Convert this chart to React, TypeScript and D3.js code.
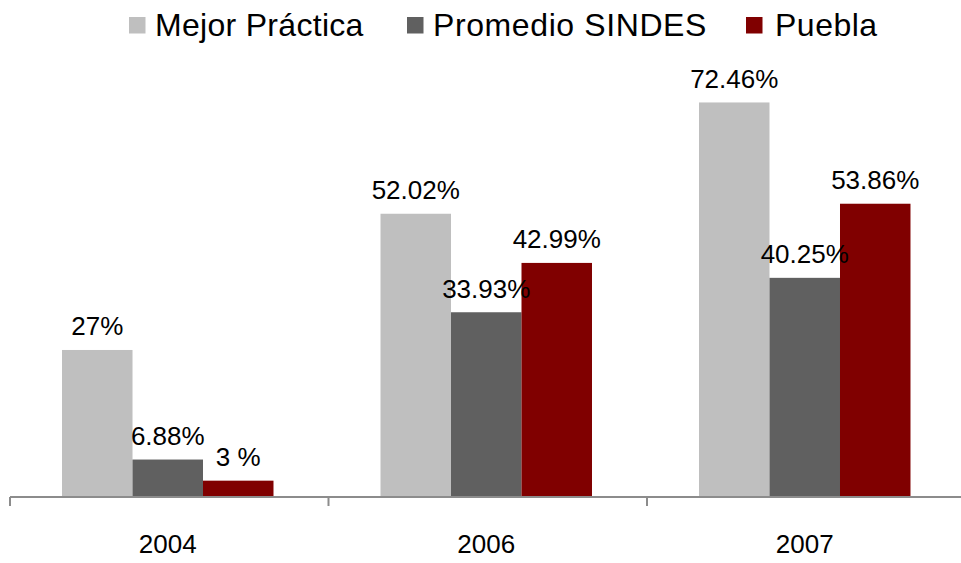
import React from "react";
import * as d3 from "d3";

const categories = ["2004", "2006", "2007"];
const seriesNames = ["Mejor Práctica", "Promedio SINDES", "Puebla"];
const mejorPractica = [27, 52.02, 72.46];
const promedioSindes = [6.88, 33.93, 40.25];
const puebla = [3, 42.99, 53.86];
const mejorLabels = ["27%", "52.02%", "72.46%"];
const promedioLabels = ["6.88%", "33.93%", "40.25%"];
const pueblaLabels = ["3 %", "42.99%", "53.86%"];
const colors = ["#BFBFBF", "#606060", "#800000"];

const W = 961;
const H = 563;
const FONT = "'Liberation Sans', Arial, sans-serif";

export default function App() {
  const values = [mejorPractica, promedioSindes, puebla];
  const labels = [mejorLabels, promedioLabels, pueblaLabels];

  const axisY = 497;
  const y = d3.scaleLinear().domain([0, 80]).range([axisY, axisY - 80 * 5.445]);

  const pi = 0.336;
  const po = 0.1633;
  const x0 = d3
    .scaleBand<string>()
    .domain(categories)
    .range([10, 962.5])
    .paddingInner(pi)
    .paddingOuter(po);
  const step = x0.step();
  const x1 = d3
    .scaleBand<string>()
    .domain(seriesNames)
    .range([0, x0.bandwidth()]);

  const tickXs = d3.range(categories.length + 1).map((i) => 10 + i * step);

  const legendItems = [
    { sq: 129, tx: 155 },
    { sq: 407, tx: 433 },
    { sq: 746, tx: 775 },
  ];
  const legendSpacing = [0.3, 0.6, 0.5];

  return (
    <svg
      width={W}
      height={H}
      style={{ position: "absolute", left: 0, top: 0, background: "#fff" }}
      fontFamily={FONT}
    >
      {/* Legend */}
      {seriesNames.map((name, i) => (
        <g key={name}>
          <rect x={legendItems[i].sq} y={17} width={16.5} height={16.5} fill={colors[i]} />
          <text
            x={legendItems[i].tx}
            y={36}
            fontSize={32}
            fill="#000"
            letterSpacing={legendSpacing[i]}
          >
            {name}
          </text>
        </g>
      ))}

      {/* Bars */}
      {categories.map((cat, ci) =>
        seriesNames.map((s, si) => {
          const bx = (x0(cat) as number) + (x1(s) as number);
          const v = values[si][ci];
          const top = y(v);
          return (
            <rect
              key={cat + s}
              x={bx}
              y={top}
              width={x1.bandwidth()}
              height={axisY - top}
              fill={colors[si]}
            />
          );
        })
      )}

      {/* Value labels */}
      {categories.map((cat, ci) =>
        seriesNames.map((s, si) => {
          const bx = (x0(cat) as number) + (x1(s) as number) + x1.bandwidth() / 2;
          const top = y(values[si][ci]);
          return (
            <text
              key={"l" + cat + s}
              x={bx}
              y={top - 14.5}
              fontSize={26}
              textAnchor="middle"
              fill="#000"
            >
              {labels[si][ci]}
            </text>
          );
        })
      )}

      {/* Axis */}
      <line x1={10} x2={961} y1={axisY} y2={axisY} stroke="#8C8C8C" strokeWidth={2} />
      {tickXs.map((tx, i) => (
        <line key={i} x1={tx} x2={tx} y1={axisY} y2={axisY + 9} stroke="#8C8C8C" strokeWidth={2} />
      ))}
      {categories.map((cat) => (
        <text
          key={"c" + cat}
          x={(x0(cat) as number) + x0.bandwidth() / 2}
          y={553}
          fontSize={26}
          textAnchor="middle"
          fill="#000"
        >
          {cat}
        </text>
      ))}
    </svg>
  );
}
